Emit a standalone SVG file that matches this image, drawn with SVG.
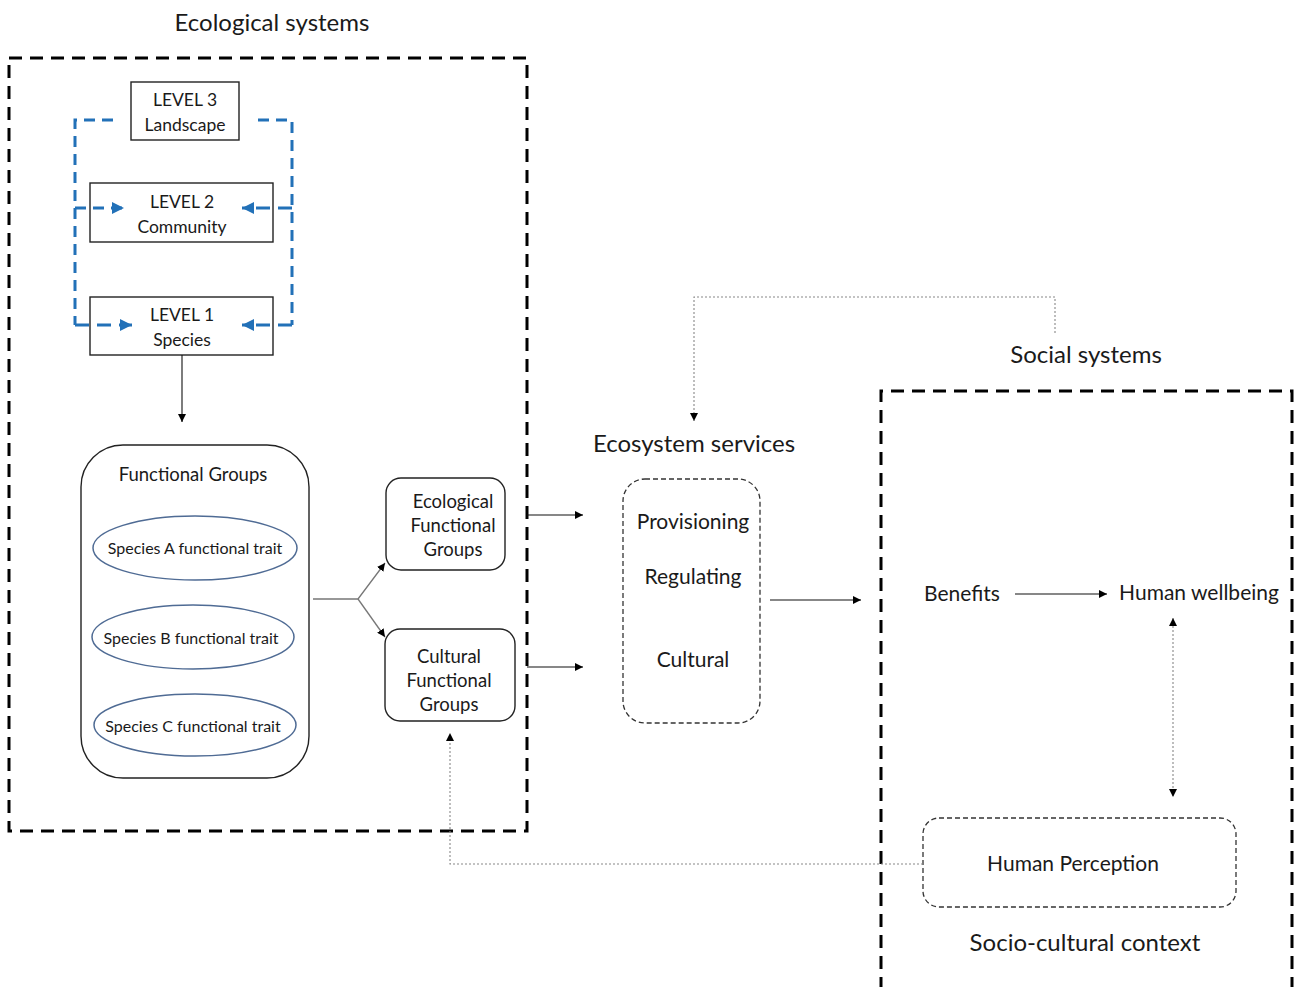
<svg xmlns="http://www.w3.org/2000/svg" width="1298" height="987" viewBox="0 0 1298 987">
  <defs>
    <style>
      text { font-family: Lato, "Open Sans", "Liberation Sans", sans-serif; fill: #1a1a1a; text-anchor: middle; }
      .title { font-size: 24px; }
      .lvl { font-size: 17.5px; }
      .body { font-size: 18.5px; }
      .svc { font-size: 21px; }
      .trait { font-size: 16px; }
      .sys { fill: none; stroke: #000; stroke-width: 3; stroke-dasharray: 13 8; }
      .box { fill: #fff; stroke: #222; stroke-width: 1.4; }
      .dbox { fill: none; stroke: #333; stroke-width: 1.3; stroke-dasharray: 5 3; }
      .ell { fill: none; stroke: #4f6b94; stroke-width: 1.5; }
      .blue { fill: none; stroke: #2271b8; stroke-width: 3; stroke-dasharray: 11 7; }
      .blueh { fill: none; stroke: #2271b8; stroke-width: 3; }
      .conn { fill: none; stroke: #111; stroke-width: 1.1; }
      .gconn { fill: none; stroke: #777; stroke-width: 1.3; }
      .dot { fill: none; stroke: #888; stroke-width: 1.1; stroke-dasharray: 2 2; }
    </style>
    <marker id="arr" viewBox="0 0 10 10" refX="10" refY="5" markerWidth="8" markerHeight="8" markerUnits="userSpaceOnUse" orient="auto">
      <path d="M0,0 L10,5 L0,10 z" fill="#000"/>
    </marker>
    <marker id="arrS" viewBox="0 0 10 10" refX="10" refY="5" markerWidth="8" markerHeight="8" markerUnits="userSpaceOnUse" orient="auto-start-reverse">
      <path d="M0,0 L10,5 L0,10 z" fill="#000"/>
    </marker>
    <marker id="barr" viewBox="0 0 10 10" refX="10" refY="5" markerWidth="12" markerHeight="12" markerUnits="userSpaceOnUse" orient="auto">
      <path d="M0,0 L10,5 L0,10 z" fill="#2271b8"/>
    </marker>
  </defs>

  <!-- system frames -->
  <g id="ecological-systems">
    <text class="title" x="272" y="31">Ecological systems</text>
    <rect class="sys" x="9" y="58" width="518" height="773"/>
  </g>
  <g id="social-systems">
    <text class="title" x="1086" y="363">Social systems</text>
    <path class="sys" d="M881,990 V391 H1292 V990"/>
  </g>

  <!-- hierarchy levels -->
  <g id="level3">
    <rect class="box" x="131" y="82" width="108" height="58"/>
    <text class="lvl" x="185" y="106">LEVEL 3</text>
    <text class="lvl" x="185" y="131">Landscape</text>
  </g>
  <g id="level2">
    <rect class="box" x="90" y="183" width="183" height="59"/>
    <text class="lvl" x="182" y="208">LEVEL 2</text>
    <text class="lvl" x="182" y="233">Community</text>
  </g>
  <g id="level1">
    <rect class="box" x="90" y="297" width="183" height="58"/>
    <text class="lvl" x="182" y="321">LEVEL 1</text>
    <text class="lvl" x="182" y="346">Species</text>
  </g>

  <!-- functional groups -->
  <g id="functional-groups">
    <rect class="box" x="81" y="445" width="228" height="333" rx="42"/>
    <text class="body" x="193" y="481">Functional Groups</text>
    <ellipse class="ell" cx="195" cy="548" rx="102" ry="32"/>
    <text class="trait" x="195" y="554">Species A functional trait</text>
    <ellipse class="ell" cx="193" cy="637" rx="101" ry="32"/>
    <text class="trait" x="191" y="644">Species B functional trait</text>
    <ellipse class="ell" cx="195" cy="725" rx="101" ry="31"/>
    <text class="trait" x="193" y="732">Species C functional trait</text>
  </g>

  <g id="ecological-functional-groups">
    <rect class="box" x="386" y="478" width="119" height="92" rx="15"/>
    <text class="body" x="453" y="508">Ecological</text>
    <text class="body" x="453" y="532">Functional</text>
    <text class="body" x="453" y="556">Groups</text>
  </g>
  <g id="cultural-functional-groups">
    <rect class="box" x="385" y="629" width="130" height="92" rx="15"/>
    <text class="body" x="449" y="663">Cultural</text>
    <text class="body" x="449" y="687">Functional</text>
    <text class="body" x="449" y="711">Groups</text>
  </g>

  <!-- ecosystem services -->
  <g id="ecosystem-services">
    <text class="title" x="694" y="452">Ecosystem services</text>
    <rect class="dbox" x="623" y="479" width="137" height="244" rx="22"/>
    <text class="svc" x="693" y="529">Provisioning</text>
    <text class="svc" x="693" y="584">Regulating</text>
    <text class="svc" x="693" y="667">Cultural</text>
  </g>

  <!-- social side -->
  <g id="benefits">
    <text class="svc" x="962" y="601">Benefits</text>
  </g>
  <g id="human-wellbeing">
    <text class="svc" x="1199" y="600">Human wellbeing</text>
  </g>
  <g id="human-perception">
    <rect class="dbox" x="923" y="818" width="313" height="89" rx="16"/>
    <text class="svc" x="1073" y="871">Human Perception</text>
  </g>
  <g id="socio-cultural-context">
    <text class="title" x="1085" y="951">Socio-cultural context</text>
  </g>

  <!-- connectors -->
  <g id="connectors">
    <!-- cross-scale feedback between levels -->
    <path class="blue" d="M113,120 H75 V325"/>
    <path class="blueh" d="M75,208 H124" stroke-dasharray="11 7" marker-end="url(#barr)"/>
    <path class="blueh" d="M75,325 H132" stroke-dasharray="14 8" marker-end="url(#barr)"/>
    <path class="blue" d="M258,120 H292 V325"/>
    <path class="blueh" d="M292,208 H242" stroke-dasharray="14 8" marker-end="url(#barr)"/>
    <path class="blueh" d="M292,325 H242" stroke-dasharray="14 8" marker-end="url(#barr)"/>

    <path class="conn" d="M182,355 V422" marker-end="url(#arr)"/>

    <path class="gconn" d="M313,599 H358 L385,563" marker-end="url(#arr)"/>
    <path class="gconn" d="M358,599 L385,637" marker-end="url(#arr)"/>

    <path class="conn" d="M527,515 H583" marker-end="url(#arr)"/>
    <path class="conn" d="M527,667 H583" marker-end="url(#arr)"/>
    <path class="conn" d="M770,600 H861" marker-end="url(#arr)"/>
    <path class="conn" d="M1015,594 H1107" marker-end="url(#arr)"/>

    <path class="dot" d="M1055,333 V297 H694 V421" marker-end="url(#arr)"/>
    <path class="dot" d="M1173,618 V797" marker-start="url(#arrS)" marker-end="url(#arrS)"/>
    <path class="dot" d="M923,864 H450 V733" marker-end="url(#arr)"/>
  </g>
</svg>
